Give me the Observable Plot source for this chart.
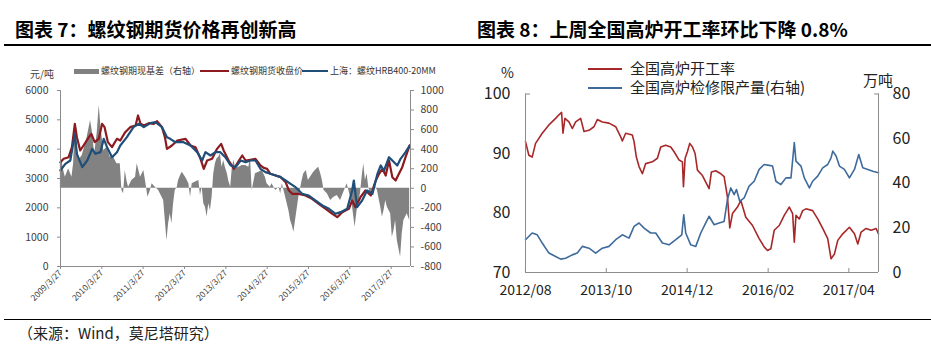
<!DOCTYPE html>
<html><head><meta charset="utf-8">
<script src="https://cdn.jsdelivr.net/npm/d3@7"></script>
<script src="https://cdn.jsdelivr.net/npm/@observablehq/plot@0.6"></script>
<style>
body{margin:0;background:#fff;}
#root{position:relative;width:931px;height:357px;overflow:hidden;font-family:"Noto Sans CJK SC","Noto Sans",sans-serif;color:#222;background:#fff;}
.abs{position:absolute;white-space:nowrap;}
.title{font-size:19px;font-weight:700;color:#000;top:17px;line-height:24px;}
.hr{position:absolute;background:#000;height:1.5px;}
.sw{position:absolute;}
.lg1{font-size:9px;line-height:12px;color:#333;top:65px;}
.lg2{font-size:15px;line-height:20px;color:#222;}
</style></head><body>
<div id="root">
  <div class="abs title" style="left:15px;">图表 7：螺纹钢期货价格再创新高</div>
  <div class="abs title" style="left:477px;">图表 8：上周全国高炉开工率环比下降 0.8%</div>
  <div class="hr" style="left:4px;width:927px;top:44px;"></div>
  <div class="hr" style="left:4px;width:927px;top:318.5px;"></div>
  <div class="abs" style="left:18px;top:322px;font-size:15px;line-height:22px;color:#222;">（来源：Wind，莫尼塔研究）</div>

  <div class="sw" style="left:74px;top:68.5px;width:25px;height:5.5px;background:#808080;"></div>
  <div class="abs lg1" style="left:101px;">螺纹钢期现基差（右轴）</div>
  <div class="sw" style="left:200px;top:70px;width:29px;height:2px;background:#8c1a1e;"></div>
  <div class="abs lg1" style="left:231px;">螺纹钢期货收盘价</div>
  <div class="sw" style="left:302px;top:70px;width:26px;height:2px;background:#1f4e79;"></div>
  <div class="abs lg1" style="left:330px;">上海：螺纹HRB400-20MM</div>
  <div class="abs" style="left:30px;top:69px;font-size:10px;line-height:10px;color:#404040;">元/吨</div>

  <div class="abs" style="left:501px;top:62px;font-size:14px;line-height:20px;color:#222;">%</div>
  <div class="abs" style="left:863px;top:70px;font-size:15px;line-height:20px;color:#222;">万吨</div>
  <div class="sw" style="left:588px;top:67.5px;width:34px;height:2px;background:#a8282a;"></div>
  <div class="abs lg2" style="left:630px;top:58px;">全国高炉开工率</div>
  <div class="sw" style="left:588px;top:86.5px;width:34px;height:2px;background:#3f6a9c;"></div>
  <div class="abs lg2" style="left:630px;top:77px;">全国高炉检修限产量(右轴)</div>

  <div id="leftChart" class="abs" style="left:0px;top:80px;"></div>
  <div id="rightChart" class="abs" style="left:465px;top:80px;"></div>
</div>
<script>
// ---------- Chart 7 data (decimal years) ----------
const futYear = [2009.23,2009.31,2009.43,2009.51,2009.58,2009.63,2009.71,2009.79,2009.92,2009.98,
  2010.06,2010.16,2010.24,2010.30,2010.38,2010.48,2010.60,2010.68,2010.80,2010.92,
  2011.05,2011.11,2011.17,2011.25,2011.37,2011.49,2011.57,2011.69,2011.76,2011.81,2011.93,
  2012.06,2012.26,2012.38,2012.50,2012.62,2012.70,2012.78,2012.90,
  2013.02,2013.12,2013.18,2013.30,2013.43,2013.55,2013.63,2013.71,2013.83,2013.95,
  2014.07,2014.15,2014.23,2014.31,2014.44,2014.56,2014.68,2014.76,2014.84,
  2015.00,2015.16,2015.32,2015.48,2015.65,2015.81,2015.93,
  2016.05,2016.21,2016.29,2016.37,2016.49,2016.61,2016.74,2016.86,2016.94,
  2017.02,2017.10,2017.18,2017.26,2017.34,2017.42,2017.50,2017.58,2017.68];
const futVal = [3556,3672,3727,4068,4865,4409,3955,4125,4409,4523,
  4239,4353,4865,4750,4239,4068,4353,4296,4580,4750,
  4807,5148,4865,4807,4886,4865,4955,4750,4409,4011,4125,
  4296,4353,4125,4068,3672,3331,3614,3672,
  4011,4182,3955,3614,3331,3614,3784,3614,3637,3672,
  3443,3364,3331,3160,3103,3046,2874,2591,2477,
  2477,2420,2307,2137,1967,1797,1682,
  1853,1967,2250,2023,2363,2591,2420,2932,3160,
  3331,3103,3614,3046,2932,3160,3386,3727,4125];

const spotYear = [2009.23,2009.35,2009.47,2009.58,2009.63,2009.76,2009.88,
  2010.00,2010.08,2010.20,2010.28,2010.36,2010.48,2010.60,2010.68,2010.84,
  2011.00,2011.13,2011.25,2011.41,2011.53,2011.69,2011.81,2011.89,
  2012.01,2012.21,2012.38,2012.54,2012.66,2012.74,2012.86,2012.98,
  2013.10,2013.22,2013.35,2013.47,2013.59,2013.71,2013.83,2013.95,
  2014.07,2014.19,2014.31,2014.44,2014.56,2014.68,2014.80,2014.92,
  2015.08,2015.24,2015.40,2015.57,2015.73,2015.89,
  2016.01,2016.17,2016.29,2016.33,2016.41,2016.53,2016.65,2016.78,2016.90,2016.98,
  2017.06,2017.18,2017.26,2017.38,2017.46,2017.58,2017.68];
const spotVal = [3273,3500,3614,4523,3841,3386,3614,
  4011,3841,3898,4353,4068,3727,3898,4125,4409,
  4750,4865,4750,4886,4920,4750,4409,4353,
  4239,4239,4125,3898,3614,3898,3784,3898,
  3898,3727,3443,3386,3614,3557,3614,3614,
  3331,3216,3160,3103,3046,2932,2818,2704,
  2477,2420,2250,2080,1967,1797,
  1853,1967,2591,2932,2023,2250,2591,2477,3160,3443,
  3273,3727,3614,3443,3672,3898,4125];

const basisYear = [2009.23,2009.25,2009.31,2009.35,2009.43,2009.51,2009.55,2009.59,2009.67,2009.76,2009.88,2009.96,
  2010.00,2010.06,2010.12,2010.17,2010.22,2010.28,2010.36,2010.44,2010.52,2010.60,2010.68,2010.72,2010.76,2010.80,2010.84,2010.88,2010.96,
  2011.05,2011.09,2011.17,2011.25,2011.29,2011.35,2011.41,2011.45,2011.53,2011.61,2011.73,2011.77,2011.81,2011.85,2011.89,2011.93,2011.97,
  2012.01,2012.06,2012.09,2012.14,2012.18,2012.26,2012.30,2012.34,2012.38,2012.42,2012.50,2012.58,2012.62,2012.66,2012.70,2012.74,2012.78,2012.82,2012.86,2012.90,2012.94,2012.98,
  2013.02,2013.06,2013.10,2013.14,2013.18,2013.22,2013.27,2013.30,2013.35,2013.39,2013.43,2013.47,2013.55,2013.63,2013.71,2013.79,2013.83,2013.87,2013.95,
  2014.03,2014.11,2014.19,2014.23,2014.31,2014.35,2014.44,2014.52,2014.56,2014.60,2014.68,2014.76,2014.80,2014.84,2014.88,2014.92,
  2015.00,2015.08,2015.12,2015.18,2015.23,2015.28,2015.36,2015.44,2015.48,2015.53,2015.57,2015.61,2015.69,2015.77,2015.85,2015.93,
  2016.01,2016.09,2016.17,2016.21,2016.29,2016.36,2016.41,2016.49,2016.53,2016.57,2016.61,2016.65,2016.69,2016.74,2016.82,2016.90,2016.98,
  2017.02,2017.06,2017.10,2017.14,2017.22,2017.26,2017.30,2017.34,2017.38,2017.46,2017.50,2017.54,2017.62,2017.68];
const basisVal = [250,318,182,113,199,113,250,660,284,335,522,693,
  591,353,557,847,591,387,420,318,318,250,250,-22,-56,182,80,11,80,
  113,250,113,182,80,-91,-22,46,11,-22,-125,-329,-533,-363,-261,-363,-159,
  -22,11,80,131,165,113,80,46,-91,46,63,80,-74,11,-159,-193,-295,-159,-227,-91,148,250,
  302,318,353,216,284,216,148,80,11,216,284,199,216,233,233,216,318,-22,148,
  165,182,113,46,11,46,-22,11,-56,46,-91,-230,-329,-380,-449,-329,
  -91,80,148,182,80,113,165,199,216,148,80,-22,-56,-125,-91,-74,
  -125,-39,46,-22,-159,-398,-227,-56,113,250,80,148,11,-74,46,-22,-193,
  -295,-227,-125,-193,-261,-500,-432,-329,-534,-704,-466,-329,-261,-329];

const priceTicks = [0,1000,2000,3000,4000,5000,6000];
const basisTicks = [-800,-600,-400,-200,0,200,400,600,800,1000];
const c7TickYears = [2009,2010,2011,2012,2013,2014,2015,2016,2017];

// ---------- Chart 8 data ----------
const rateYear = [2012.583,2012.631,2012.679,2012.728,2012.824,2012.920,
  2013.017,2013.065,2013.103,2013.123,2013.151,2013.209,2013.257,2013.306,2013.378,2013.426,2013.498,2013.570,2013.619,2013.691,2013.787,2013.884,2013.956,2013.980,
  2014.028,2014.124,2014.149,2014.182,2014.221,2014.269,2014.317,2014.413,2014.486,2014.534,2014.606,2014.679,2014.727,2014.799,2014.847,2014.862,2014.886,2014.919,2014.953,2014.992,
  2015.030,2015.064,2015.136,2015.184,2015.232,2015.266,2015.329,2015.401,2015.449,2015.497,2015.531,2015.570,2015.642,2015.690,2015.762,2015.859,2015.955,
  2016.027,2016.075,2016.124,2016.172,2016.244,2016.316,2016.389,2016.437,2016.461,2016.485,2016.533,2016.581,2016.629,2016.725,2016.798,2016.870,2016.942,2016.990,
  2017.039,2017.087,2017.159,2017.255,2017.328,2017.376,2017.424,2017.496,2017.569,2017.641,2017.675];
const rateVal = [92.0,89.7,89.4,91.7,93.4,94.8,
  95.9,96.5,96.9,93.4,95.9,95.3,94.2,95.3,95.9,93.7,93.9,94.5,95.7,95.3,95.1,94.5,92.8,92.1,
  93.4,93.1,92.0,89.4,87.8,86.6,88.3,88.6,89.2,91.1,91.4,91.1,90.3,88.9,88.6,84.4,89.2,90.3,91.7,91.1,
  90.0,87.2,86.3,85.2,84.1,86.9,87.1,86.6,86.1,82.7,77.5,79.9,81.0,82.1,79.3,77.9,75.7,
  74.3,73.7,74.0,77.1,77.9,79.6,81.0,79.9,75.1,79.6,79.0,80.4,80.7,80.4,79.0,77.4,75.7,72.3,
  73.1,75.4,76.5,77.6,76.5,74.8,76.8,77.4,77.1,77.4,76.5];

const cutYear = [2012.583,2012.679,2012.752,2012.824,2012.920,
  2013.017,2013.089,2013.161,2013.257,2013.330,2013.402,2013.498,2013.595,2013.691,2013.787,2013.884,2013.980,
  2014.076,2014.149,2014.221,2014.293,2014.389,2014.462,2014.558,2014.654,2014.751,2014.838,2014.866,2014.895,2014.967,
  2015.040,2015.112,2015.184,2015.232,2015.305,2015.377,2015.449,2015.497,2015.545,2015.594,2015.627,2015.675,2015.738,2015.810,2015.883,2015.955,
  2016.027,2016.099,2016.148,2016.196,2016.268,2016.340,2016.413,2016.461,2016.485,2016.557,2016.605,2016.678,2016.725,2016.798,2016.870,2016.942,2016.990,
  2017.015,2017.063,2017.111,2017.183,2017.255,2017.328,2017.390,2017.448,2017.521,2017.593,2017.675];
const cutVal = [14.7,17.7,16.9,13.2,8.7,
  7.2,6.0,6.4,7.9,8.7,11.7,10.9,8.7,10.9,11.7,14.7,16.9,
  15.4,20.7,22.2,19.9,17.7,17.7,13.2,12.4,14.7,16.9,25.9,17.7,12.4,
  11.7,17.7,22.2,25.2,21.4,22.2,22.9,32.7,37.9,34.9,37.2,31.9,33.4,38.7,40.9,46.2,
  48.4,48.0,47.7,40.9,39.4,42.4,42.4,58.2,49.9,47.7,42.4,37.9,40.9,43.2,46.9,48.4,51.4,
  54.4,52.2,47.7,46.2,42.4,46.2,52.9,46.9,46.2,45.4,44.7];

const rateTicks = [70,80,90,100];
const cutTicks = [0,20,40,60,80];
const c8TickLabels = ["2012/08","2013/10","2014/12","2016/02","2017/04"];

// ---------- helpers ----------
const toDate = y => { const yr = Math.floor(y); const s = Date.UTC(yr,0,1), e = Date.UTC(yr+1,0,1); return new Date(s + (y-yr)*(e-s)); };
const zip = (ys, vs) => ys.slice(0, Math.min(ys.length, vs.length)).map((y,i)=>({date:toDate(y), v:vs[i]}));
const FONT = '"Noto Sans CJK SC","Noto Sans",sans-serif';

// Chart 7: dual axis  price [0,6000] left, basis [-800,1000] right
const P0=0,P1=6000,B0=-800,B1=1000;
const mapB = v => P0 + (v-B0)/(B1-B0)*(P1-P0);
const invB = p => B0 + (p-P0)/(P1-P0)*(B1-B0);
const fut = zip(futYear, futVal), spot = zip(spotYear, spotVal), basis = zip(basisYear, basisVal);
const x7 = [toDate(2009.233), toDate(2017.70)];
const c7Ticks = c7TickYears.map(y => new Date(Date.UTC(y,2,27)));

const chart7 = Plot.plot({
  width:465, height:230, marginLeft:60, marginRight:55, marginTop:10, marginBottom:44,
  x:{type:"utc", domain:x7, axis:null},
  y:{domain:[P0,P1], axis:null},
  style:{fontFamily:FONT, background:"transparent", overflow:"visible", color:"#404040"},
  marks:[
    Plot.areaY(basis, {x:"date", y1:()=>mapB(0), y2:d=>mapB(d.v), fill:"#828282"}),
    Plot.line(fut, {x:"date", y:"v", stroke:"#8c1a1e", strokeWidth:2.2}),
    Plot.line(spot, {x:"date", y:"v", stroke:"#1f4e79", strokeWidth:2.2}),
    Plot.ruleX([x7[0]], {stroke:"#8c8c8c"}),
    Plot.ruleX([x7[1]], {stroke:"#8c8c8c"}),
    Plot.ruleY([P0], {stroke:"#8c8c8c"}),
    Plot.axisY(priceTicks, {anchor:"left", tickSize:3, tickPadding:9, stroke:"#8c8c8c", fill:"#404040", fontSize:10.5, label:null, tickFormat:d=>String(d)}),
    Plot.axisY(basisTicks.map(mapB), {anchor:"right", tickSize:3, tickPadding:7, stroke:"#8c8c8c", fill:"#404040", fontSize:10.5, label:null, tickFormat:d=>String(Math.round(invB(d)))}),
    Plot.axisX(c7Ticks, {anchor:"bottom", tickSize:3, tickPadding:2, tickRotate:-45, stroke:"#8c8c8c", fill:"#404040", fontSize:8.5, label:null,
      tickFormat:d=>`${d.getUTCFullYear()}/3/27`})
  ]
});
document.getElementById("leftChart").appendChild(chart7);

// Chart 8: rate [70,100] left, cut [0,80] right
const R0=70,R1=100,C0=0,C1=80;
const mapC = v => R0 + (v-C0)/(C1-C0)*(R1-R0);
const invC = p => C0 + (p-R0)/(R1-R0)*(C1-C0);
const rate = zip(rateYear, rateVal), cut = zip(cutYear, cutVal);
const x8 = [toDate(2012.583), toDate(2017.675)];
const c8Ticks = c8TickLabels.map(s => { const [y,m] = s.split("/").map(Number); return new Date(Date.UTC(y,m-1,1)); });

const chart8 = Plot.plot({
  width:466, height:230, marginLeft:60, marginRight:53, marginTop:13.5, marginBottom:38,
  x:{type:"utc", domain:x8, axis:null},
  y:{domain:[R0,R1], axis:null},
  style:{fontFamily:FONT, background:"transparent", overflow:"visible", color:"#222"},
  marks:[
    Plot.line(rate, {x:"date", y:"v", stroke:"#a8282a", strokeWidth:1.6}),
    Plot.line(cut, {x:"date", y:d=>mapC(d.v), stroke:"#3f6a9c", strokeWidth:1.6}),
    Plot.ruleX([x8[0]], {stroke:"#8c8c8c"}),
    Plot.ruleX([x8[1]], {stroke:"#8c8c8c"}),
    Plot.ruleY([R0], {stroke:"#8c8c8c"}),
    Plot.axisY(rateTicks, {anchor:"left", tickSize:0, tickPadding:15, fill:"#222", fontSize:16, label:null, tickFormat:d=>String(d)}),
    Plot.axisY(cutTicks.map(mapC), {anchor:"right", tickSize:0, tickPadding:14, fill:"#222", fontSize:16, label:null, tickFormat:d=>String(Math.round(invC(d)))}),
    Plot.axisY([R1], {anchor:"left", tickSize:-5, tickPadding:0, stroke:"#8c8c8c", label:null, tickFormat:()=>""}),
    Plot.axisY([R1], {anchor:"right", tickSize:-5, tickPadding:0, stroke:"#8c8c8c", label:null, tickFormat:()=>""}),
    Plot.axisX(c8Ticks, {anchor:"bottom", tickSize:-4, tickPadding:17, stroke:"#8c8c8c", fill:"#222", fontSize:14, label:null,
      tickFormat:d=>`${d.getUTCFullYear()}/${String(d.getUTCMonth()+1).padStart(2,"0")}`})
  ]
});
document.getElementById("rightChart").appendChild(chart8);
</script>
</body></html>
